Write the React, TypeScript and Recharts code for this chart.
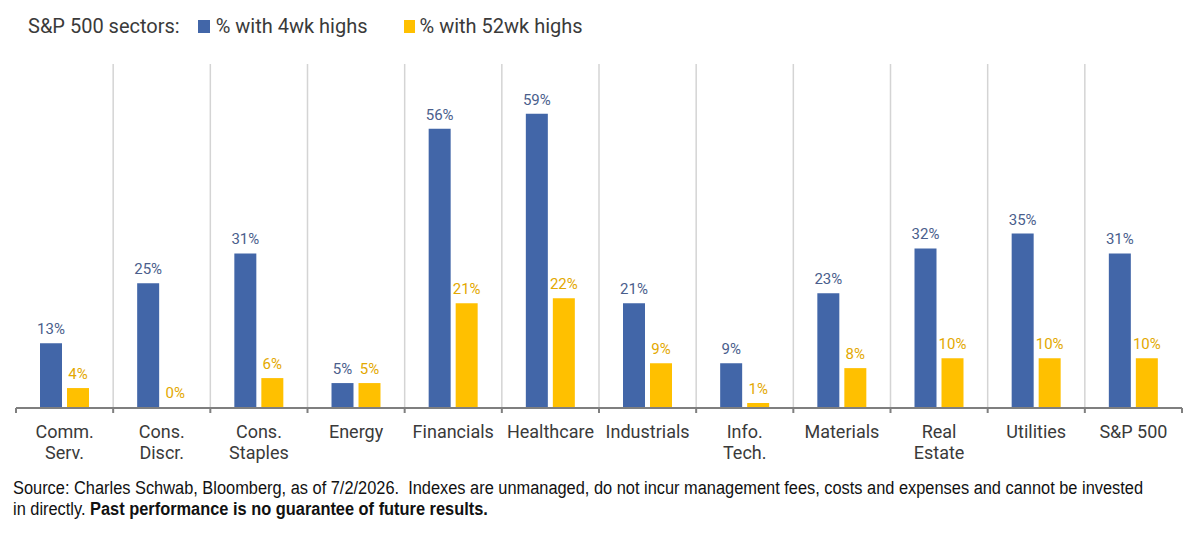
import React from "react";
import {
  BarChart,
  Bar,
  XAxis,
  YAxis,
  CartesianGrid,
  LabelList,
} from "recharts";

const SECTORS = [
  "Comm.\nServ.",
  "Cons.\nDiscr.",
  "Cons.\nStaples",
  "Energy",
  "Financials",
  "Healthcare",
  "Industrials",
  "Info.\nTech.",
  "Materials",
  "Real\nEstate",
  "Utilities",
  "S&P 500",
];
const HIGHS_4WK = [13, 25, 31, 5, 56, 59, 21, 9, 23, 32, 35, 31];
const HIGHS_52WK = [4, 0, 6, 5, 21, 22, 9, 1, 8, 10, 10, 10];

const BLUE = "#4266A8";
const YELLOW = "#FFC000";
const BLUE_TEXT = "#4A5E8C";
const YELLOW_TEXT = "#E3A800";
const FONT = "Roboto, 'Noto Sans', sans-serif";

const WIDTH = 1200;
const MARGIN = { top: 64, right: 18, bottom: 0, left: 16 };
const PLOT_W = WIDTH - MARGIN.left - MARGIN.right;
const BAND = PLOT_W / SECTORS.length;

const data = SECTORS.map((name, i) => ({
  name,
  wk4: HIGHS_4WK[i],
  wk52: HIGHS_52WK[i],
}));

function SectorTick(props: any) {
  const { x, y, payload, index } = props;
  const lines = String(payload.value).split("\n");
  const isLast = index === SECTORS.length - 1;
  return (
    <g>
      <line x1={x - BAND / 2} x2={x - BAND / 2} y1={y - 5} y2={y} stroke="#7f7f7f" strokeWidth={2} />
      {isLast && (
        <line x1={x + BAND / 2} x2={x + BAND / 2} y1={y - 5} y2={y} stroke="#7f7f7f" strokeWidth={2} />
      )}
      {lines.map((t, i) => (
        <text
          key={i}
          x={x}
          y={y + 25 + i * 21}
          textAnchor="middle"
          fill="#3a3a3a"
          fontSize={18}
          fontFamily={FONT}
        >
          {t}
        </text>
      ))}
    </g>
  );
}

const pct = (v: any) => `${v}%`;

export default function App() {
  return (
    <div
      style={{
        position: "absolute",
        left: 0,
        top: 0,
        width: 1200,
        height: 538,
        background: "#fff",
        fontFamily: FONT,
        overflow: "hidden",
      }}
    >
      <div
        style={{
          position: "absolute",
          left: 28,
          top: 14,
          fontSize: 20,
          color: "#3a3a3a",
          display: "flex",
          alignItems: "center",
          whiteSpace: "nowrap",
        }}
      >
        <span>S&amp;P 500 sectors:</span>
        <span style={{ display: "inline-block", width: 12, height: 13, background: BLUE, marginLeft: 18, marginRight: 6 }} />
        <span>% with 4wk highs</span>
        <span style={{ display: "inline-block", width: 11, height: 13, background: YELLOW, marginLeft: 36, marginRight: 5 }} />
        <span>% with 52wk highs</span>
      </div>

      <BarChart
        width={WIDTH}
        height={470}
        data={data}
        margin={MARGIN}
        barSize={22}
        barGap={5}
      >
        <CartesianGrid
          horizontal={false}
          stroke="#d4d4d4"
          strokeWidth={1.5}
          verticalCoordinatesGenerator={({ offset }: any) =>
            SECTORS.slice(1).map((_, i) => offset.left + ((i + 1) * offset.width) / SECTORS.length)
          }
        />
        <Bar dataKey="wk4" fill={BLUE} isAnimationActive={false}>
          <LabelList
            dataKey="wk4"
            position="top"
            offset={9}
            formatter={pct}
            fill={BLUE_TEXT}
            fontSize={15}
            fontFamily={FONT}
          />
        </Bar>
        <Bar dataKey="wk52" fill={YELLOW} minPointSize={1} isAnimationActive={false}>
          <LabelList
            dataKey="wk52"
            position="top"
            offset={9}
            formatter={pct}
            fill={YELLOW_TEXT}
            fontSize={15}
            fontFamily={FONT}
          />
        </Bar>
        <XAxis
          dataKey="name"
          interval={0}
          height={62}
          tickLine={false}
          tickSize={5}
          tickMargin={0}
          axisLine={{ stroke: "#7f7f7f", strokeWidth: 2 }}
          tick={<SectorTick />}
        />
        <YAxis hide domain={[0, 69]} />
      </BarChart>

      <div
        style={{
          position: "absolute",
          left: 13,
          top: 478,
          fontSize: 18,
          lineHeight: "21px",
          color: "#111",
          whiteSpace: "nowrap",
          transform: "scaleX(0.91)",
          transformOrigin: "left top",
          fontFamily: "'Liberation Sans', Arial, sans-serif",
        }}
      >
        Source: Charles Schwab, Bloomberg, as of 7/2/2026.&nbsp; Indexes are unmanaged, do not incur management fees, costs and expenses and cannot be invested
        <br />
        in directly. <b>Past performance is no guarantee of future results.</b>
      </div>
    </div>
  );
}
